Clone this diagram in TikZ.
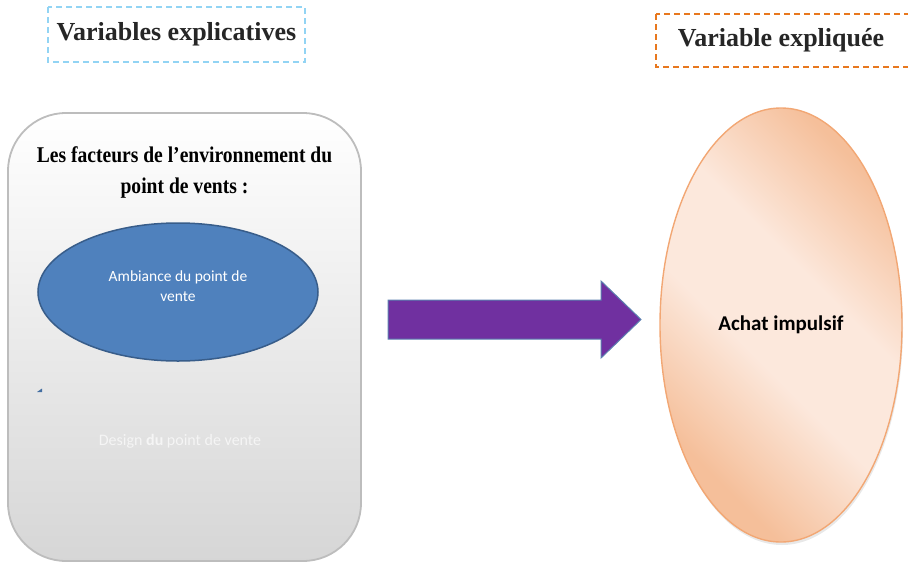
\documentclass[tikz,border=0pt]{standalone}
\usepackage{fontspec}
\setmainfont{Liberation Serif}
\newfontfamily\calib{Carlito}
\usetikzlibrary{shapes.geometric}
\definecolor{dashblue}{HTML}{92D4F4}
\definecolor{dashorange}{HTML}{E8781E}
\definecolor{ellblue}{HTML}{4F81BD}
\definecolor{ellblueb}{HTML}{385D8A}
\definecolor{arrpurple}{HTML}{7030A0}
\definecolor{arrborder}{HTML}{5B7FAF}
\definecolor{pdark}{HTML}{F5BF9A}
\definecolor{plight}{HTML}{FCE8DC}
\definecolor{pborder}{HTML}{F2A774}
\definecolor{boxborder}{HTML}{BDBDBD}
\pgfdeclarehorizontalshading{peachsh}{100bp}{color(0bp)=(pdark); color(27bp)=(pdark); color(44bp)=(plight); color(58bp)=(plight); color(75bp)=(pdark); color(100bp)=(pdark)}
\tikzset{
  headbox/.style={draw, dashed, line width=2.5pt, dash pattern=on 6pt off 4pt, inner sep=0pt},
  headtext/.style={font=\fontsize{26}{30}\selectfont\bfseries, text=black!85},
}
\begin{document}
\begin{tikzpicture}[x=1pt,y=-1pt]
\useasboundingbox (0,0) rectangle (908,563);
% dashed header boxes
\draw[headbox, dashblue] (48,7) rectangle (305,62);
\node[headtext] (hleft) at (176.5,34.5) {Variables explicatives};
\draw[headbox, dashorange] (656,14) rectangle (930,67);
\node[headtext] (hright) at (781,40) {Variable expliquée};
% rounded container
\shade[top color=white, bottom color=black!16, draw=boxborder, line width=1.8pt, rounded corners=58pt]
  (8,113) rectangle (361,561);
\node[align=center, xscale=0.87, font=\fontsize{22.5}{31}\selectfont\bfseries] (title) at (184.5,172)
  {Les facteurs de l’environnement du\\point de vents :};
% blue ellipse
\node[ellipse, draw=ellblueb, fill=ellblue, line width=1.5pt, minimum width=280pt, minimum height=138pt, inner sep=0pt] (amb) at (178,292) {};
\node[align=center, text=white, font=\calib\fontsize{15.5}{20}\selectfont] (ambt) at (178,286) {Ambiance du point de\\vente};
% tiny mark
\fill[ellblue!85!black] (37,392) -- (42,388.5) -- (42,392) -- cycle;
% design text
\node[text=white!96!black, font=\calib\fontsize{16}{20}\selectfont] (design) at (180,441) {Design \textbf{du} point de vente};
% purple arrow
\filldraw[fill=arrpurple, draw=arrborder, line width=1pt]
  (388,300) -- (601,300) -- (601,281) -- (641,319.5) -- (601,358) -- (601,339) -- (388,339) -- cycle;
% peach ellipse
\fill[black!18, opacity=0.5] (782,328) ellipse [x radius=121pt, y radius=217pt];
\node[ellipse, shading=peachsh, shading angle=45, draw=pborder, line width=1.4pt, minimum width=242pt, minimum height=434pt, inner sep=0pt] (achat) at (781,325) {};
\node[font=\calib\bfseries\fontsize{21}{24}\selectfont] (achatt) at (781,325) {Achat impulsif};
\end{tikzpicture}
\end{document}
